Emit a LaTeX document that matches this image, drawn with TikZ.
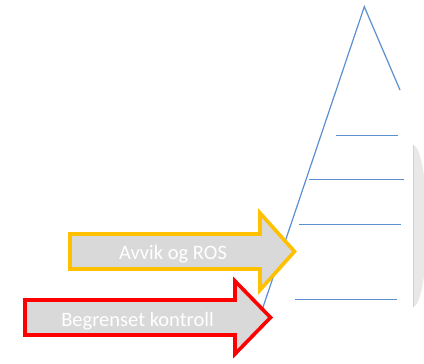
\documentclass[tikz,border=0pt]{standalone}
\usepackage{fontspec}
\newfontfamily\calibri{Carlito}
\usepackage{tikz}
\usetikzlibrary{positioning}
\definecolor{pyrblue}{HTML}{5B8FD2}
\definecolor{arrowgray}{HTML}{D9D9D9}
\definecolor{shadegray}{HTML}{E8E8E8}
\definecolor{edgegray}{HTML}{D2D2D2}
\definecolor{avvikgold}{HTML}{FFC000}
\definecolor{kontrred}{HTML}{FF0000}

\begin{document}
\begin{tikzpicture}[x=1pt,y=-1pt,
    pyrline/.style={pyrblue,line width=1.2pt},
    bigarrow/.style={fill=arrowgray,line width=3.6pt,line join=miter},
    arrowtext/.style={font=\calibri\fontsize{20.5}{24}\selectfont,text=white,inner sep=0pt,anchor=base}]
\useasboundingbox (0,0) rectangle (424,364);
% pyramid
\coordinate (apex) at (364.3,6.7);
\coordinate (rightend) at (400,90);
\coordinate (leftend) at (258.7,320);
\draw[pyrline] (leftend) -- (apex) -- (rightend);
% levels
\draw[pyrline] (335.7,135.7) -- (397.7,135.7);
\draw[pyrline] (309.3,179.3) -- (404.3,179.3);
\draw[pyrline] (299.3,224.3) -- (401,224.3);
\draw[pyrline] (295,299.3) -- (397,299.3);
% grey shade at the right edge
\begin{scope}
  \clip (413,0) rectangle (424,364);
  \fill[shadegray] (413,226) ellipse [x radius=14, y radius=81];
\end{scope}
\draw[edgegray,line width=1pt] (413.5,145) -- (413.5,307);
% arrows
\draw[bigarrow,draw=avvikgold] (70,234) -- (260,234) -- (260,213) -- (294.5,251.5)
  -- (260,290) -- (260,269) -- (70,269) -- cycle;
\node[arrowtext] (avvik) at (173,259) {Avvik og ROS};
\draw[bigarrow,draw=kontrred] (25,300) -- (235,300) -- (235,281) -- (270.5,317.5)
  -- (235,354) -- (235,335) -- (25,335) -- cycle;
\node[arrowtext] (kontroll) at (137.5,326) {Begrenset kontroll};
\end{tikzpicture}
\end{document}
